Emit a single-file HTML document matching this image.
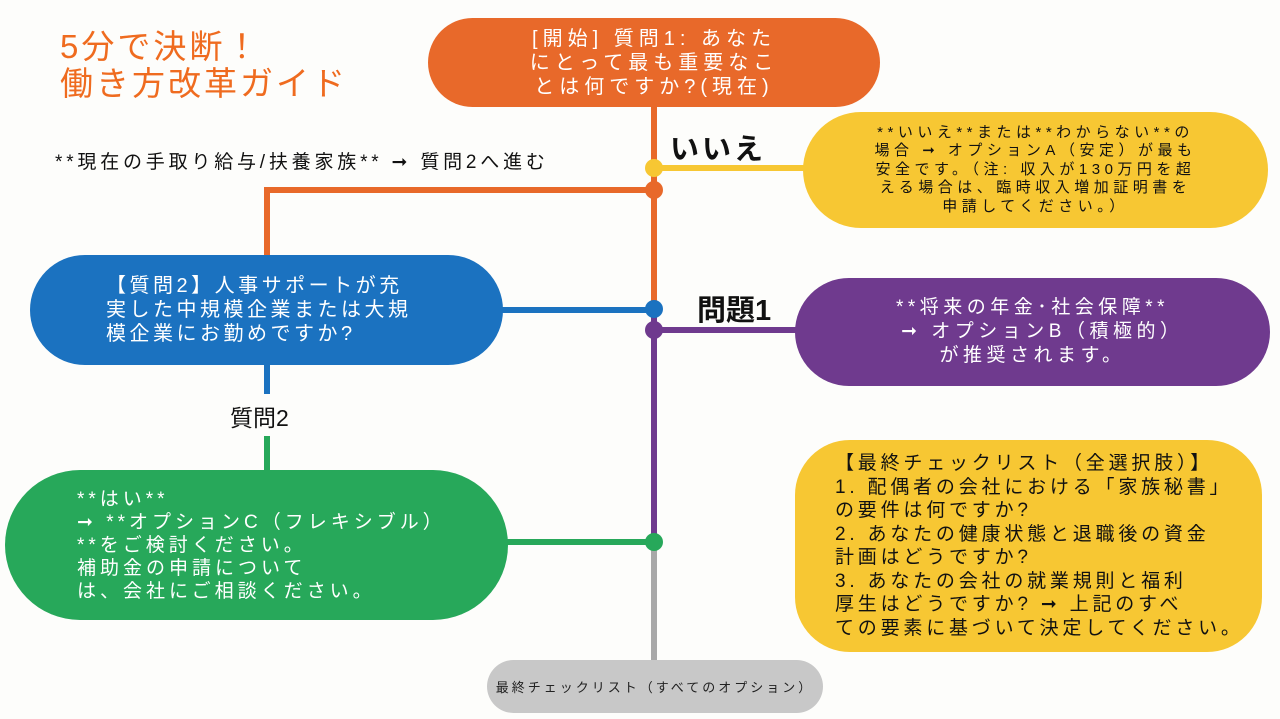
<!DOCTYPE html>
<html><head><meta charset="utf-8"><style>
body{margin:0;width:1280px;height:719px;background:#fdfdfb;position:relative;overflow:hidden;font-family:"Liberation Sans","Noto Sans CJK JP",sans-serif}
.a{position:absolute;white-space:nowrap}
.pill{position:absolute;display:flex;align-items:center;justify-content:center;text-align:center;box-sizing:border-box;white-space:nowrap}
.l{position:absolute}
.dot{position:absolute;width:18px;height:18px;border-radius:50%;margin:-9px 0 0 -9px}
</style></head><body>
<div class="a" style="left:60px;top:28px;color:#ef6b1f;font-size:33px;line-height:37px;letter-spacing:3px">5分で決断！<br>働き方改革ガイド</div>

<div class="l" style="left:651px;top:100px;width:6px;height:205px;background:#e8692a"></div>
<div class="l" style="left:651px;top:305px;width:6px;height:240px;background:#6f3a8e"></div>
<div class="l" style="left:651px;top:545px;width:6px;height:118px;background:#a8a8a8"></div>
<div class="l" style="left:654px;top:165px;width:155px;height:6px;background:#f7c733"></div>
<div class="l" style="left:264px;top:187px;width:392px;height:6px;background:#e8692a"></div>
<div class="l" style="left:264px;top:187px;width:6px;height:72px;background:#e8692a"></div>
<div class="l" style="left:500px;top:307px;width:154px;height:6px;background:#1b72c0"></div>
<div class="l" style="left:654px;top:327px;width:145px;height:6px;background:#6f3a8e"></div>
<div class="l" style="left:264px;top:362px;width:6px;height:32px;background:#1b72c0"></div>
<div class="l" style="left:264px;top:436px;width:6px;height:36px;background:#27a85a"></div>
<div class="l" style="left:505px;top:539px;width:150px;height:6px;background:#27a85a"></div>
<div class="dot" style="left:654px;top:168px;background:#f7c733"></div>
<div class="dot" style="left:654px;top:190px;background:#e8692a"></div>
<div class="dot" style="left:654px;top:309px;background:#1b72c0"></div>
<div class="dot" style="left:654px;top:330px;background:#6f3a8e"></div>
<div class="dot" style="left:654px;top:542px;background:#27a85a"></div>

<div class="pill" style="left:428px;top:18px;width:452px;height:89px;border-radius:45px;background:#e8692a;color:#fff;font-size:20px;line-height:24px;letter-spacing:5px">[開始] 質問1: あなた<br>にとって最も重要なこ<br>とは何ですか?(現在)</div>
<div class="a" style="left:670px;top:126px;font-size:29px;font-weight:bold;color:#111;letter-spacing:3px">いいえ</div>
<div class="a" style="left:55px;top:147px;font-size:19px;color:#111;letter-spacing:3.8px">**現在の手取り給与/扶養家族** ➞ 質問2へ進む</div>

<div class="pill" style="left:803px;top:112px;width:465px;height:116px;border-radius:58px;background:#f7c733;color:#111;font-size:15px;line-height:18.5px;letter-spacing:4.5px">**いいえ**または**わからない**の<br>場合 ➞ オプションA（安定）が最も<br>安全です。（注: 収入が130万円を超<br>える場合は、臨時収入増加証明書を<br>申請してください。）</div>

<div class="pill" style="left:30px;top:255px;width:473px;height:110px;border-radius:55px;background:#1b72c0;color:#fff;font-size:20px;line-height:24px;justify-content:flex-start;padding-left:76px;text-align:left;letter-spacing:3.5px">【質問2】人事サポートが充<br>実した中規模企業または大規<br>模企業にお勤めですか?</div>
<div class="a" style="left:697px;top:287px;font-size:29px;font-weight:bold;color:#111">問題1</div>

<div class="pill" style="left:795px;top:278px;width:475px;height:108px;border-radius:54px;background:#6f3a8e;color:#fff;font-size:19px;line-height:24px;letter-spacing:4.5px">**将来の年金･社会保障**<br>&nbsp;&nbsp;➞ オプションB（積極的）<br>が推奨されます。</div>

<div class="a" style="left:230px;top:399px;font-size:23px;color:#111">質問2</div>

<div class="pill" style="left:5px;top:470px;width:503px;height:150px;border-radius:75px;background:#27a85a;color:#fff;font-size:19px;line-height:23px;justify-content:flex-start;padding-left:72px;text-align:left;letter-spacing:4px">**はい**<br>➞ **オプションC（フレキシブル）<br>**をご検討ください。<br>補助金の申請について<br>は、会社にご相談ください。</div>

<div class="pill" style="left:795px;top:440px;width:467px;height:212px;border-radius:55px;background:#f7c733;color:#111;font-size:19px;line-height:23.5px;justify-content:flex-start;padding-left:40px;text-align:left;letter-spacing:3.8px">【最終チェックリスト（全選択肢）】<br>1. 配偶者の会社における「家族秘書」<br>の要件は何ですか?<br>2. あなたの健康状態と退職後の資金<br>計画はどうですか?<br>3. あなたの会社の就業規則と福利<br>厚生はどうですか? ➞ 上記のすべ<br>ての要素に基づいて決定してください。</div>

<div class="pill" style="left:487px;top:660px;width:336px;height:53px;border-radius:27px;background:#c8c8c8;color:#222;font-size:13px;letter-spacing:3px">最終チェックリスト（すべてのオプション）</div>
</body></html>
